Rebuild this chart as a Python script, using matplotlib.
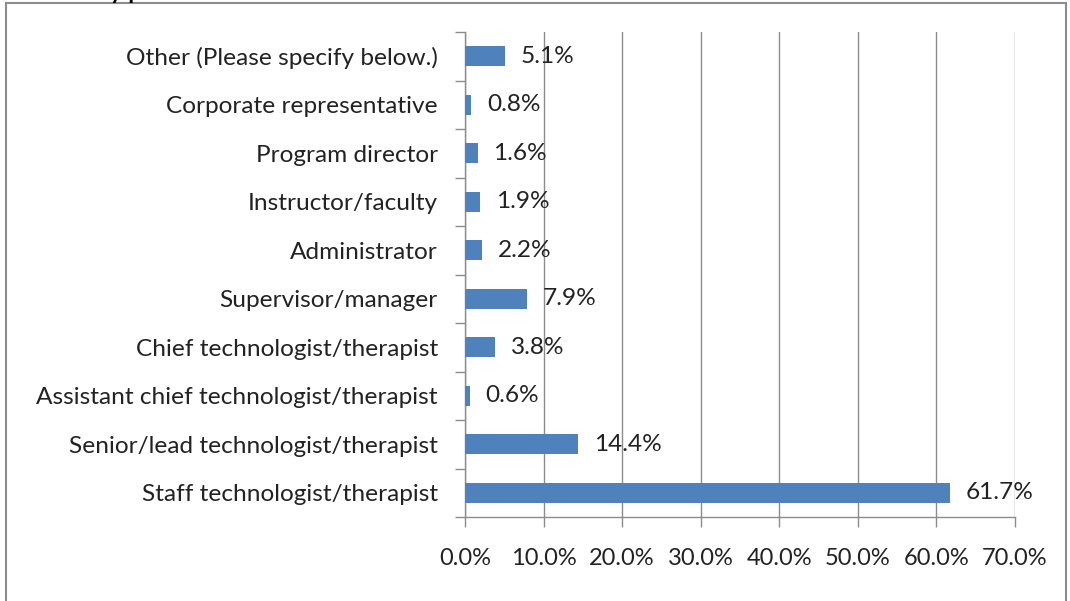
import matplotlib
matplotlib.use("Agg")
import matplotlib.pyplot as plt
from matplotlib.patches import Rectangle
from matplotlib.ticker import MultipleLocator, FuncFormatter, FixedLocator

categories = [
    "Staff technologist/therapist",
    "Senior/lead technologist/therapist",
    "Assistant chief technologist/therapist",
    "Chief technologist/therapist",
    "Supervisor/manager",
    "Administrator",
    "Instructor/faculty",
    "Program director",
    "Corporate representative",
    "Other (Please specify below.)",
]
values = [61.7, 14.4, 0.6, 3.8, 7.9, 2.2, 1.9, 1.6, 0.8, 5.1]

plt.rcParams['font.family'] = ['Lato', 'DejaVu Sans']
FS = 17.6

fig = plt.figure(figsize=(10.70, 6.01), dpi=100)
ax = fig.add_axes([465/1070, 1-517/601, (1015-465)/1070, (517-32)/601])

y = list(range(len(categories)))
ax.barh(y, values, height=0.42, color="#4F81BD", zorder=3)
for yi, v in zip(y, values):
    ax.annotate(f"{v:.1f}%", (v, yi), xytext=(11.5, 0), textcoords="offset points",
                va="center", ha="left", fontsize=FS, color="#222222", zorder=4)

ax.set_xlim(0, 70)
ax.set_ylim(-0.5, len(categories) - 0.5)
ax.xaxis.set_major_locator(MultipleLocator(10))
ax.xaxis.set_major_formatter(FuncFormatter(lambda v, p: f"{v:.1f}%"))
ax.grid(axis="x", color="#8c8c8c", linewidth=1, zorder=0)
ax.set_yticks(y)
ax.set_yticklabels(categories)
ax.yaxis.set_minor_locator(FixedLocator([i - 0.5 for i in range(len(categories) + 1)]))
ax.tick_params(axis="y", which="major", length=0, pad=19.5, labelsize=FS, labelcolor="#222222")
ax.tick_params(axis="y", which="minor", length=7, color="#8c8c8c", width=1)
ax.tick_params(axis="x", which="major", length=7, color="#8c8c8c", width=1,
               pad=15, labelsize=17, labelcolor="#222222")
for s in ["top", "right"]:
    ax.spines[s].set_visible(False)
for s in ["left", "bottom"]:
    ax.spines[s].set_color("#8c8c8c")
    ax.spines[s].set_linewidth(1)

fig.patches.append(Rectangle((6/1070, -0.05), (1066-6)/1070, 1.05 - 3/601,
                             transform=fig.transFigure, fill=False,
                             edgecolor="#8c8c8c", linewidth=1.5))
fig.text(40/1070, 1 + 1/601, "Primary position", fontsize=17, fontweight="bold",
         va="baseline", ha="left", color="black")

fig.savefig("out.png", dpi=100)
